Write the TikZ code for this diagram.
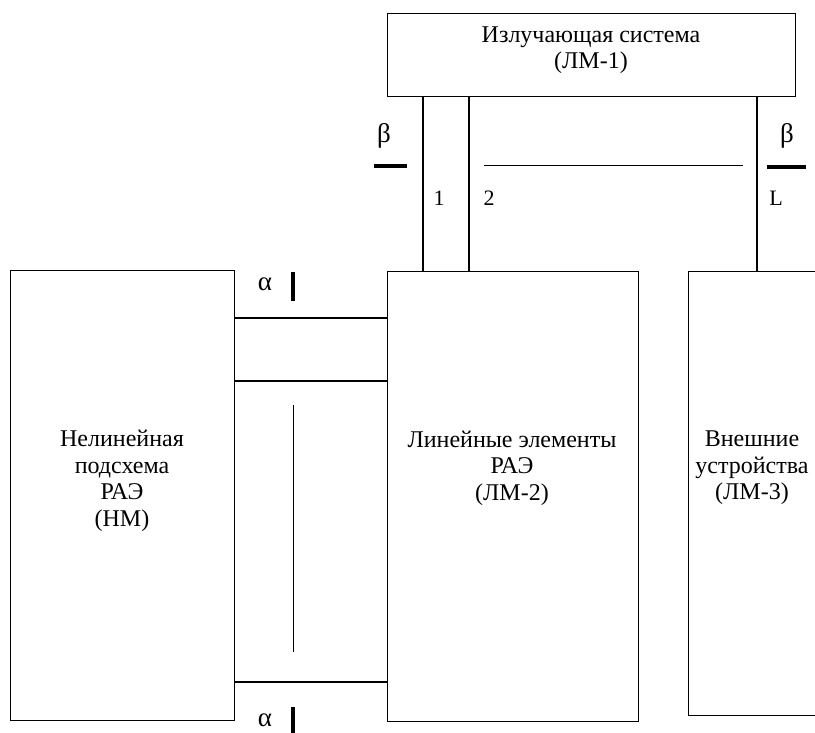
\documentclass[tikz,border=0pt]{standalone}
\usepackage{fontspec}
\setmainfont{Liberation Serif}
\usepackage{tikz}
\usetikzlibrary{positioning,calc}

\begin{document}
\begin{tikzpicture}[x=1pt,y=-1pt,font=\fontsize{24}{26.5}\selectfont,
  blockbox/.style={draw,line width=1.2pt,inner sep=0pt,anchor=north west},
  txt/.style={align=center,inner sep=0pt},
  tag/.style={inner sep=0pt,font=\fontsize{22}{24}\selectfont},
  greek/.style={inner sep=0pt,font=\fontsize{27}{29}\selectfont},
  portbar/.style={line width=3.5pt},
  wire/.style={line width=1.2pt},
  dotline/.style={line width=0.9pt,dash pattern=on 0.5pt off 0.5pt}]
  \useasboundingbox (0,0) rectangle (815,733);
  % blocks
  \node[blockbox,minimum width=408pt,minimum height=83pt] (lm1) at (387,13) {};
  \node[blockbox,minimum width=224pt,minimum height=450pt] (nm) at (10,270) {};
  \node[blockbox,minimum width=251pt,minimum height=450pt] (lm2) at (387,271) {};
  \node[blockbox,minimum width=160pt,minimum height=444pt] (lm3) at (688,271) {};
  \node[txt] (lm1t) at (591,50) {Излучающая система\\(ЛМ-1)};
  \node[txt] (nmt) at (122,481) {Нелинейная\\подсхема\\РАЭ\\(НМ)};
  \node[txt] (lm2t) at (512,468) {Линейные элементы\\РАЭ\\(ЛМ-2)};
  \node[txt] (lm3t) at (752,468) {Внешние\\устройства\\(ЛМ-3)};
  % ports of the radiating system
  \coordinate (b1) at (423,0);
  \coordinate (b2) at (469,0);
  \coordinate (bL) at (757,0);
  \draw[wire] (lm1.south -| b1) -- (lm2.north -| b1);
  \draw[wire] (lm1.south -| b2) -- (lm2.north -| b2);
  \draw[wire] (lm1.south -| bL) -- (lm3.north -| bL);
  \draw[dotline] (484,165) -- (743,165);
  \node[tag] (n1) at (439,198) {1};
  \node[tag] (n2) at (489,198) {2};
  \node[tag] (nL) at (776,198) {L};
  \draw[portbar] (374,166) -- (407,166);
  \draw[portbar] (767,167) -- (806,167);
  \node[greek] (bt1) at (384,136) {β};
  \node[greek] (bt2) at (787,136) {β};
  % ports of the nonlinear part
  \coordinate (a1) at (0,318);
  \coordinate (a2) at (0,381);
  \coordinate (aN) at (0,682);
  \draw[wire] (nm.east |- a1) -- (lm2.west |- a1);
  \draw[wire] (nm.east |- a2) -- (lm2.west |- a2);
  \draw[wire] (nm.east |- aN) -- (lm2.west |- aN);
  \draw[dotline] (293,405) -- (293,652);
  \draw[portbar] (293,272) -- (293,301);
  \draw[portbar] (293,707) -- (293,735);
  \node[greek] (al1) at (265,284) {α};
  \node[greek] (al2) at (265,720) {α};
\end{tikzpicture}
\end{document}
